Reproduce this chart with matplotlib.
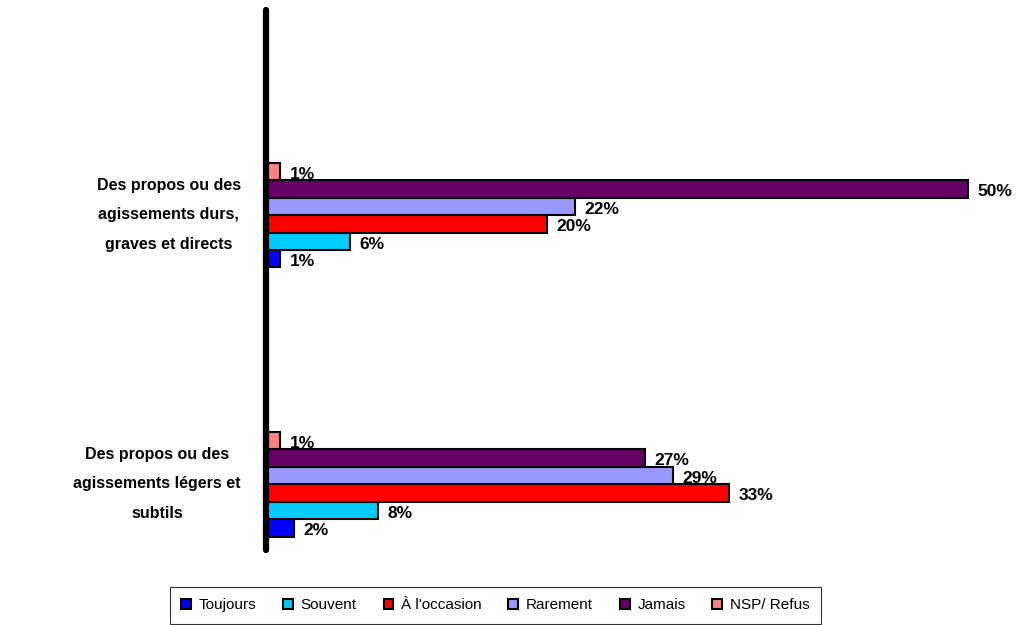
import matplotlib.pyplot as plt
import numpy as np
from matplotlib.patches import Patch
from matplotlib.transforms import ScaledTranslation

plt.rcParams['font.family'] = ['Liberation Sans', 'DejaVu Sans']

# Données
categories = ["Des propos ou des\nagissements légers et\nsubtils",
              "Des propos ou des\nagissements durs,\ngraves et directs"]
series = ["Toujours", "Souvent", "À l'occasion", "Rarement", "Jamais", "NSP/ Refus"]
colors = ["#0000FF", "#00CCFF", "#FF0000", "#9999FF", "#660066", "#FF8080"]
values = [
    [2, 1],    # Toujours
    [8, 6],    # Souvent
    [33, 20],  # À l'occasion
    [29, 22],  # Rarement
    [27, 50],  # Jamais
    [1, 1],    # NSP/ Refus
]

fig = plt.figure(figsize=(10.3, 6.25), dpi=100)
ax = fig.add_axes([0.258, 0.12, 0.709, 0.864])

pos = np.arange(len(categories))
h = 0.065
for i, (name, col, vals) in enumerate(zip(series, colors, values)):
    y = pos + (i - 2.5) * h
    ax.barh(y, vals, height=h, color=col, edgecolor="black", linewidth=1.5, label=name)
    for yy, v in zip(y, vals):
        ax.annotate(f"{v}%", (v, yy), xytext=(7, -2), textcoords="offset points",
                    ha="left", va="center", fontsize=12.5, fontweight="bold")

ax.set_xlim(0, 52)
ax.set_ylim(-0.245, 1.762)
ax.set_xticks([])
ax.set_yticks(pos)
ax.set_yticklabels(categories, fontsize=11.5, fontweight="bold", multialignment="center",
                   linespacing=2.2)
ax.tick_params(axis="y", length=0, pad=18)
shift = ScaledTranslation(0, 9 / 100, fig.dpi_scale_trans)
for lab in ax.get_yticklabels():
    lab.set_transform(lab.get_transform() + shift)

for s in ["top", "right", "bottom"]:
    ax.spines[s].set_visible(False)
ax.spines["left"].set_linewidth(4.5)
ax.spines["left"].set_capstyle("round")

leg = fig.legend(handles=[Patch(facecolor=c, edgecolor="black", linewidth=1.5, label=n)
                          for n, c in zip(series, colors)],
                 loc="lower center", bbox_to_anchor=(0.481, -0.01), ncol=6,
                 fontsize=11, frameon=True, fancybox=False, handlelength=0.65,
                 handleheight=0.65, handletextpad=0.5, columnspacing=1.75,
                 borderpad=0.75)
leg.get_frame().set_edgecolor("black")
leg.get_frame().set_linewidth(0.8)

plt.savefig("out.png", dpi=100)
